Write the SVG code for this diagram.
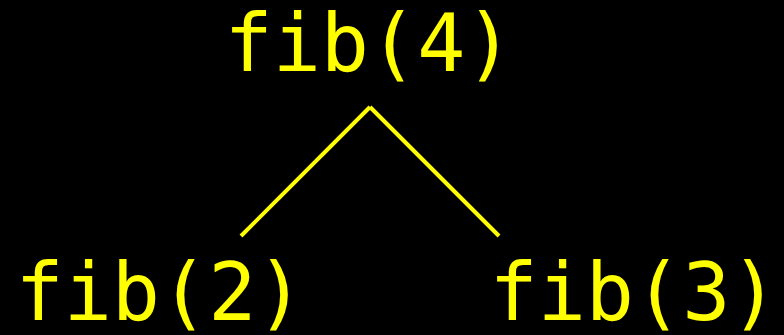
<svg xmlns="http://www.w3.org/2000/svg" width="784" height="335" viewBox="0 0 784 335">
<style>
text{font-family:"DejaVu Sans Mono",monospace;font-size:80px;fill:#ffff00;text-anchor:middle}
.e{stroke:#ffff00;stroke-width:4;fill:none}
</style>
<rect width="784" height="335" fill="#000"/>
<g id="connectors">
<line class="e" x1="370" y1="107" x2="241" y2="236"/>
<line class="e" x1="370" y1="107" x2="499" y2="236"/>
</g>
<g id="n4"><text x="369" y="71">fib(4)</text></g>
<g id="n2"><text x="160" y="320">fib(2)</text></g>
<g id="n3"><text x="634" y="320">fib(3)</text></g>
</svg>
